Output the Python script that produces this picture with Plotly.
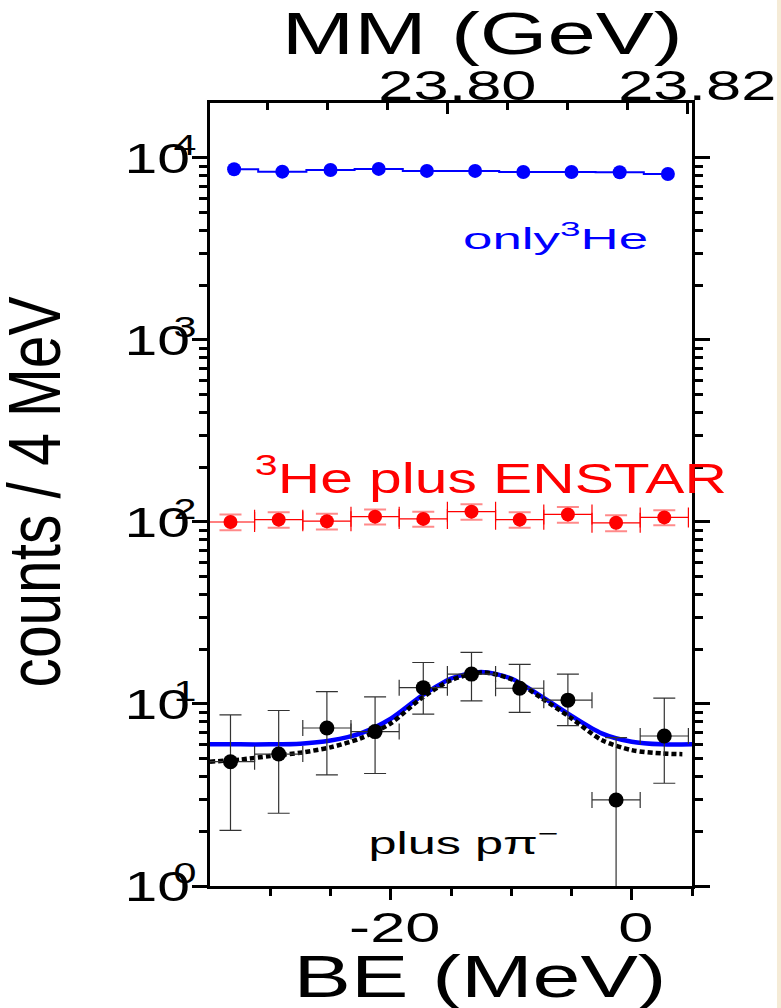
import plotly.graph_objects as go

# ---------------- data ----------------
be_bins = [-33.3, -29.3, -25.3, -21.3, -17.3, -13.3, -9.3, -5.3, -1.3, 2.7]
be_only3he = [-33.0, -29.0, -25.0, -21.0, -17.0, -13.0, -9.0, -5.0, -1.0, 3.0]
bin_halfwidth = 2.0

counts_only3he = [8670, 8410, 8590, 8710, 8490, 8490, 8380, 8380, 8340, 8170]

counts_enstar = [100, 103, 101, 107, 104, 114, 103, 110, 99, 106]
err_enstar = [10, 10, 10, 10, 10, 11, 10, 11, 10, 10]

counts_ppi = [4.82, 5.31, 7.38, 7.05, 12.3, 14.6, 12.2, 10.5, 2.97, 6.67]
err_ppi_up = [3.9, 3.9, 4.3, 3.9, 4.6, 4.6, 4.3, 4.1, 3.56, 4.1]
err_ppi_down = [2.8, 2.8, 3.3, 2.9, 3.5, 4.2, 3.2, 2.9, 2.58, 3.0]

fit_be = [-35, -32.5, -30, -27.5, -25, -22.5, -20, -17.5, -15, -12.5, -10, -7.5, -5, -2.5, 0, 2.5, 5]
fit_total = [6.0, 6.0, 6.0, 6.05, 6.3, 6.9, 8.3, 11.0, 13.8, 15.0, 13.8, 11.0, 8.6, 6.9, 6.2, 6.0, 6.0]

fit_bg_be = [-35, -32.5, -30, -27.5, -25, -22.5, -20, -17.5, -15, -12.5, -10, -7.5, -5, -2.5, 0, 2.5, 4.2]
fit_bg = [4.82, 4.95, 5.18, 5.4, 5.78, 6.48, 7.83, 10.7, 13.5, 14.9, 13.7, 10.8, 8.34, 6.34, 5.58, 5.35, 5.3]

be_range = [-35, 5]
mm_range = [23.7802, 23.8204]
log_count_range = [0, 4.302]
y_tickvals = [1, 10, 100, 1000, 10000]
y_ticktext = ["10<sup>0</sup>", "10<sup>1</sup>", "10<sup>2</sup>", "10<sup>3</sup>", "10<sup>4</sup>"]
y_minor = [m * 10 ** k for k in range(4) for m in range(2, 10)]
x_tickvals = [-20, 0]
x_ticktext = ["-20", "0"]
x_minor = [-30, -25, -15, -10, -5, 5]
mm_tickvals = [23.80, 23.82]
mm_ticktext = ["23.80", "23.82"]
mm_minor = [23.785, 23.79, 23.795, 23.805, 23.81, 23.815]

BLUE = "#0000ff"
RED = "#ff0000"
FONT = "Liberation Sans, Arial, Helvetica, sans-serif"

fig = go.Figure()

fig.add_trace(go.Scatter(
    x=fit_be, y=fit_total, mode="lines",
    line=dict(color=BLUE, width=4.5, shape="spline", smoothing=0.8),
    hoverinfo="skip"))
fig.add_trace(go.Scatter(
    x=fit_bg_be, y=fit_bg, mode="lines",
    line=dict(color="black", width=4.5, dash="5px,3px", shape="spline", smoothing=0.8),
    hoverinfo="skip"))
fig.add_trace(go.Scatter(
    x=be_only3he, y=counts_only3he, mode="lines+markers",
    line=dict(color=BLUE, width=2, shape="hvh"),
    marker=dict(size=14, color=BLUE)))
fig.add_trace(go.Scatter(
    x=be_bins, y=counts_enstar, mode="markers",
    marker=dict(size=14, color=RED),
    error_y=dict(type="data", array=err_enstar, color="rgba(255,60,60,0.6)", thickness=2, width=11),
    error_x=dict(type="constant", value=bin_halfwidth, color=RED, thickness=1.2, width=10),
    cliponaxis=False))
fig.add_trace(go.Scatter(
    x=be_bins, y=counts_ppi, mode="markers",
    marker=dict(size=15, color="black"),
    error_y=dict(type="data", symmetric=False, array=err_ppi_up, arrayminus=err_ppi_down,
                 color="#333333", thickness=1.2, width=11),
    error_x=dict(type="constant", value=bin_halfwidth, color="#333333", thickness=1.2, width=8),
    cliponaxis=False))
# empty trace so that the top MM axis is drawn
fig.add_trace(go.Scatter(x=mm_tickvals, y=[None, None], xaxis="x2", yaxis="y",
                         mode="markers", hoverinfo="skip", showlegend=False))

axis_common = dict(showline=True, linecolor="black", linewidth=3, showgrid=False, zeroline=False,
                   tickcolor="black", tickwidth=3, tickfont=dict(size=43, family=FONT, color="black"))


def label(text, x, y, size, color="black", angle=0):
    return dict(text=text, x=x, y=y, xref="paper", yref="paper", xanchor="center",
                yanchor="middle", showarrow=False, textangle=angle,
                font=dict(size=size, color=color, family=FONT))


fig.update_layout(
    width=781, height=1008,
    margin=dict(l=210, r=89, t=103, b=122),
    paper_bgcolor="white", plot_bgcolor="white",
    showlegend=False,
    font=dict(family=FONT, color="black"),
    xaxis=dict(range=be_range, tickmode="array", tickvals=x_tickvals, ticktext=x_ticktext,
               ticks="outside", ticklen=11, ticklabelstandoff=-10, ticklabelshift=4,
               minor=dict(tickmode="array", tickvals=x_minor, ticks="outside", ticklen=7,
                          tickwidth=3, tickcolor="black"),
               **axis_common),
    xaxis2=dict(range=mm_range, overlaying="x", side="top", anchor="y",
                tickmode="array", tickvals=mm_tickvals, ticktext=mm_ticktext,
                ticks="inside", ticklen=11, ticklabelshift=10, ticklabelstandoff=-17,
                minor=dict(tickmode="array", tickvals=mm_minor, ticks="inside", ticklen=7,
                           tickwidth=3, tickcolor="black"),
                **axis_common),
    yaxis=dict(type="log", range=log_count_range, tickmode="array", tickvals=y_tickvals,
               ticktext=y_ticktext, ticks="outside", ticklen=15, mirror="ticks",
               ticklabelstandoff=-13,
               minor=dict(tickmode="array", tickvals=y_minor, ticks="outside", ticklen=8,
                          tickwidth=2.5, tickcolor="black"),
               **axis_common),
    annotations=[
        label("only<sup>3</sup>He", 0.716, 0.83, 30, BLUE),
        label("<sup>3</sup>He plus ENSTAR", 0.583, 0.525, 43, RED),
        label("plus pπ<sup>−</sup>", 0.525, 0.058, 31),
        label("counts / 4 MeV", -0.364, 0.503, 74, angle=-90),
        label("MM (GeV)", 0.566, 1.089, 60),
        label("BE (MeV)", 0.56, -0.116, 60),
    ],
    shapes=[dict(type="rect", xref="paper", yref="paper", x0=1.1763, x1=1.4, y0=-1, y1=2,
                 fillcolor="#f5ebd6", line=dict(width=0), layer="above")],
)

# The reference uses a horizontally stretched (and, for the y title, condensed) typeface:
# reproduce it by fitting each text to the width it has in the reference.
post = """
document.body.style.margin = '0';
var widths = {'MM(GeV)': 401, 'BE(MeV)': 373, 'only3He': 185,
              '3HeplusENSTAR': 472, 'pluspπ': 190, 'counts/4MeV': 391};
document.querySelectorAll('svg text').forEach(function(t){
  var s = (t.textContent || '').replace(/[^A-Za-z0-9π\\/()]/g, '');
  var w = t.getComputedTextLength();
  if (!w) return;
  var target;
  if (widths[s] !== undefined) { target = widths[s]; }
  else if (t.closest('.ytick')) {
    t.querySelectorAll('tspan').forEach(function(sp){
      if (sp.getAttribute('dy') && parseFloat(sp.getAttribute('dy')) < 0) sp.setAttribute('dx', '-12');
    });
    target = 72;
  }
  else { target = w * 1.47; }
  t.setAttribute('textLength', target);
  t.setAttribute('lengthAdjust', 'spacingAndGlyphs');
});
"""

fig.write_html("out.html", post_script=post, config={"displayModeBar": False})
